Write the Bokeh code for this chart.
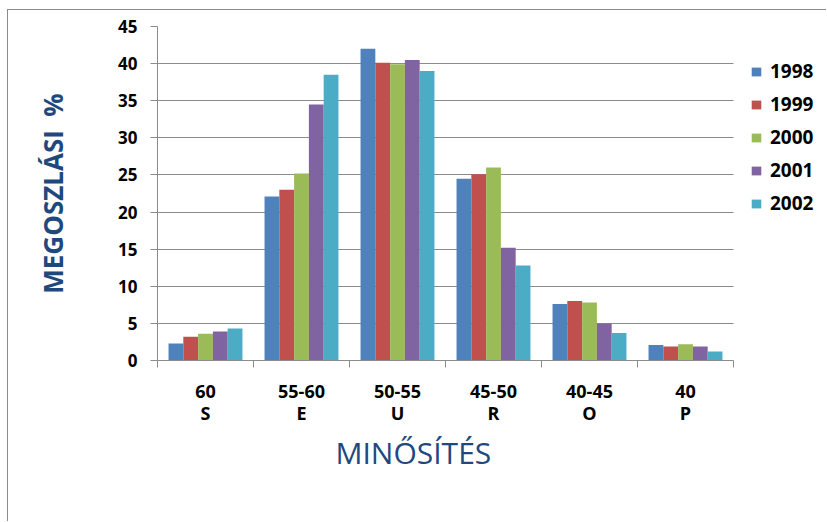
from bokeh.plotting import figure
from bokeh.models import (Range1d, LinearAxis, FixedTicker, Title,
                          Legend, LegendItem, ColumnDataSource)
from bokeh.transform import dodge
from bokeh.embed import file_html
from bokeh.resources import INLINE

categories = ["60\nS", "55-60\nE", "50-55\nU", "45-50\nR", "40-45\nO", "40\nP"]
years = ["1998", "1999", "2000", "2001", "2002"]
v1998 = [2.3, 22.1, 42.0, 24.5, 7.6, 2.1]
v1999 = [3.2, 23.0, 40.1, 25.1, 8.0, 1.9]
v2000 = [3.6, 25.2, 39.9, 26.0, 7.8, 2.2]
v2001 = [3.9, 34.5, 40.5, 15.2, 5.0, 1.9]
v2002 = [4.3, 38.5, 39.0, 12.8, 3.7, 1.2]
y_ticks = [0, 5, 10, 15, 20, 25, 30, 35, 40, 45]
colors = ["#4F81BD", "#C0504D", "#9BBB59", "#8064A2", "#4BACC6"]

n = len(categories)
centers = [i + 0.5 for i in range(n)]
boundaries = list(range(n + 1))

source = ColumnDataSource(data=dict(xc=centers, y1998=v1998, y1999=v1999,
                                    y2000=v2000, y2001=v2001, y2002=v2002))

FONT = "Open Sans"
GRAY = "#8c8c8c"
TITLE_COLOR = "#1F497D"

# layout: plotting area 576 px wide for the categories, frame continues to the
# right edge so that the legend can sit there
W, H = 819, 512
LEFT, BOTTOM, TOP = 149, 162, 16
frame_w = W - LEFT
x_end = n * frame_w / 576.0

p = figure(width=W, height=H,
           x_range=Range1d(0, x_end), y_range=Range1d(0, 45),
           output_backend="svg", toolbar_location=None, x_axis_location=None,
           min_border_left=LEFT, min_border_right=0, min_border_top=TOP,
           min_border_bottom=BOTTOM)
p.styles = {"margin-left": "7px", "margin-top": "9px",
            "border-top": "1px solid #8c8c8c", "border-left": "1px solid #8c8c8c"}
p.outline_line_color = None
p.background_fill_color = "white"
p.border_fill_color = "white"

bw = 0.154
offsets = [-2 * bw, -bw, 0, bw, 2 * bw]
renderers = []
for yr, col, off in zip(years, colors, offsets):
    r = p.vbar(x=dodge("xc", off), top="y" + yr, width=bw,
               source=source, fill_color=col, line_color=None)
    renderers.append(r)

# y axis
ya = p.yaxis[0]
ya.ticker = FixedTicker(ticks=y_ticks)
ya.minor_tick_line_color = None
ya.major_tick_out = 7
ya.major_tick_in = 0
ya.major_tick_line_color = GRAY
ya.axis_line_color = GRAY
ya.major_label_text_font = FONT
ya.major_label_text_font_style = "bold"
ya.major_label_text_font_size = "17px"
ya.major_label_text_color = "black"
ya.major_label_standoff = 13
ya.axis_label = "MEGOSZLÁSI\u00a0\u00a0%"
ya.axis_label_text_font = FONT
ya.axis_label_text_font_style = "bold"
ya.axis_label_text_font_size = "26px"
ya.axis_label_text_color = TITLE_COLOR
ya.axis_label_standoff = 44

p.ygrid.ticker = FixedTicker(ticks=y_ticks)
p.ygrid.grid_line_color = GRAY
p.ygrid.cross_bounds = (0, n)
p.xgrid.grid_line_color = None

# x axis: category labels at centers, boundary ticks as minor ticks
cat_axis = LinearAxis(ticker=FixedTicker(ticks=centers, minor_ticks=boundaries),
                      bounds=(0, n),
                      major_label_overrides={c: lab for c, lab in zip(centers, categories)},
                      axis_line_color=GRAY, major_tick_line_color=None,
                      major_tick_in=0, major_tick_out=0,
                      minor_tick_line_color=GRAY, minor_tick_in=0, minor_tick_out=7,
                      major_label_text_font=FONT,
                      major_label_text_font_style="bold",
                      major_label_text_font_size="18px",
                      major_label_text_color="black",
                      major_label_text_line_height=0.95,
                      major_label_standoff=11)
p.add_layout(cat_axis, "below")

xtitle = Title(text="MINŐSÍTÉS", align="left", offset=178, standoff=3,
               text_font=FONT, text_font_style="normal", text_font_size="30px",
               text_color=TITLE_COLOR)
p.add_layout(xtitle, "below")

legend = Legend(items=[LegendItem(label=yr, renderers=[r]) for yr, r in zip(years, renderers)],
                location=(593, 144), orientation="vertical",
                glyph_width=12, glyph_height=11, label_height=20, spacing=7,
                label_standoff=8, padding=0, margin=0,
                border_line_color=None, background_fill_alpha=0,
                label_text_font=FONT, label_text_font_style="bold",
                label_text_font_size="19px", label_text_color="black")
p.add_layout(legend)

open("out.html", "w").write(file_html(p, INLINE))
